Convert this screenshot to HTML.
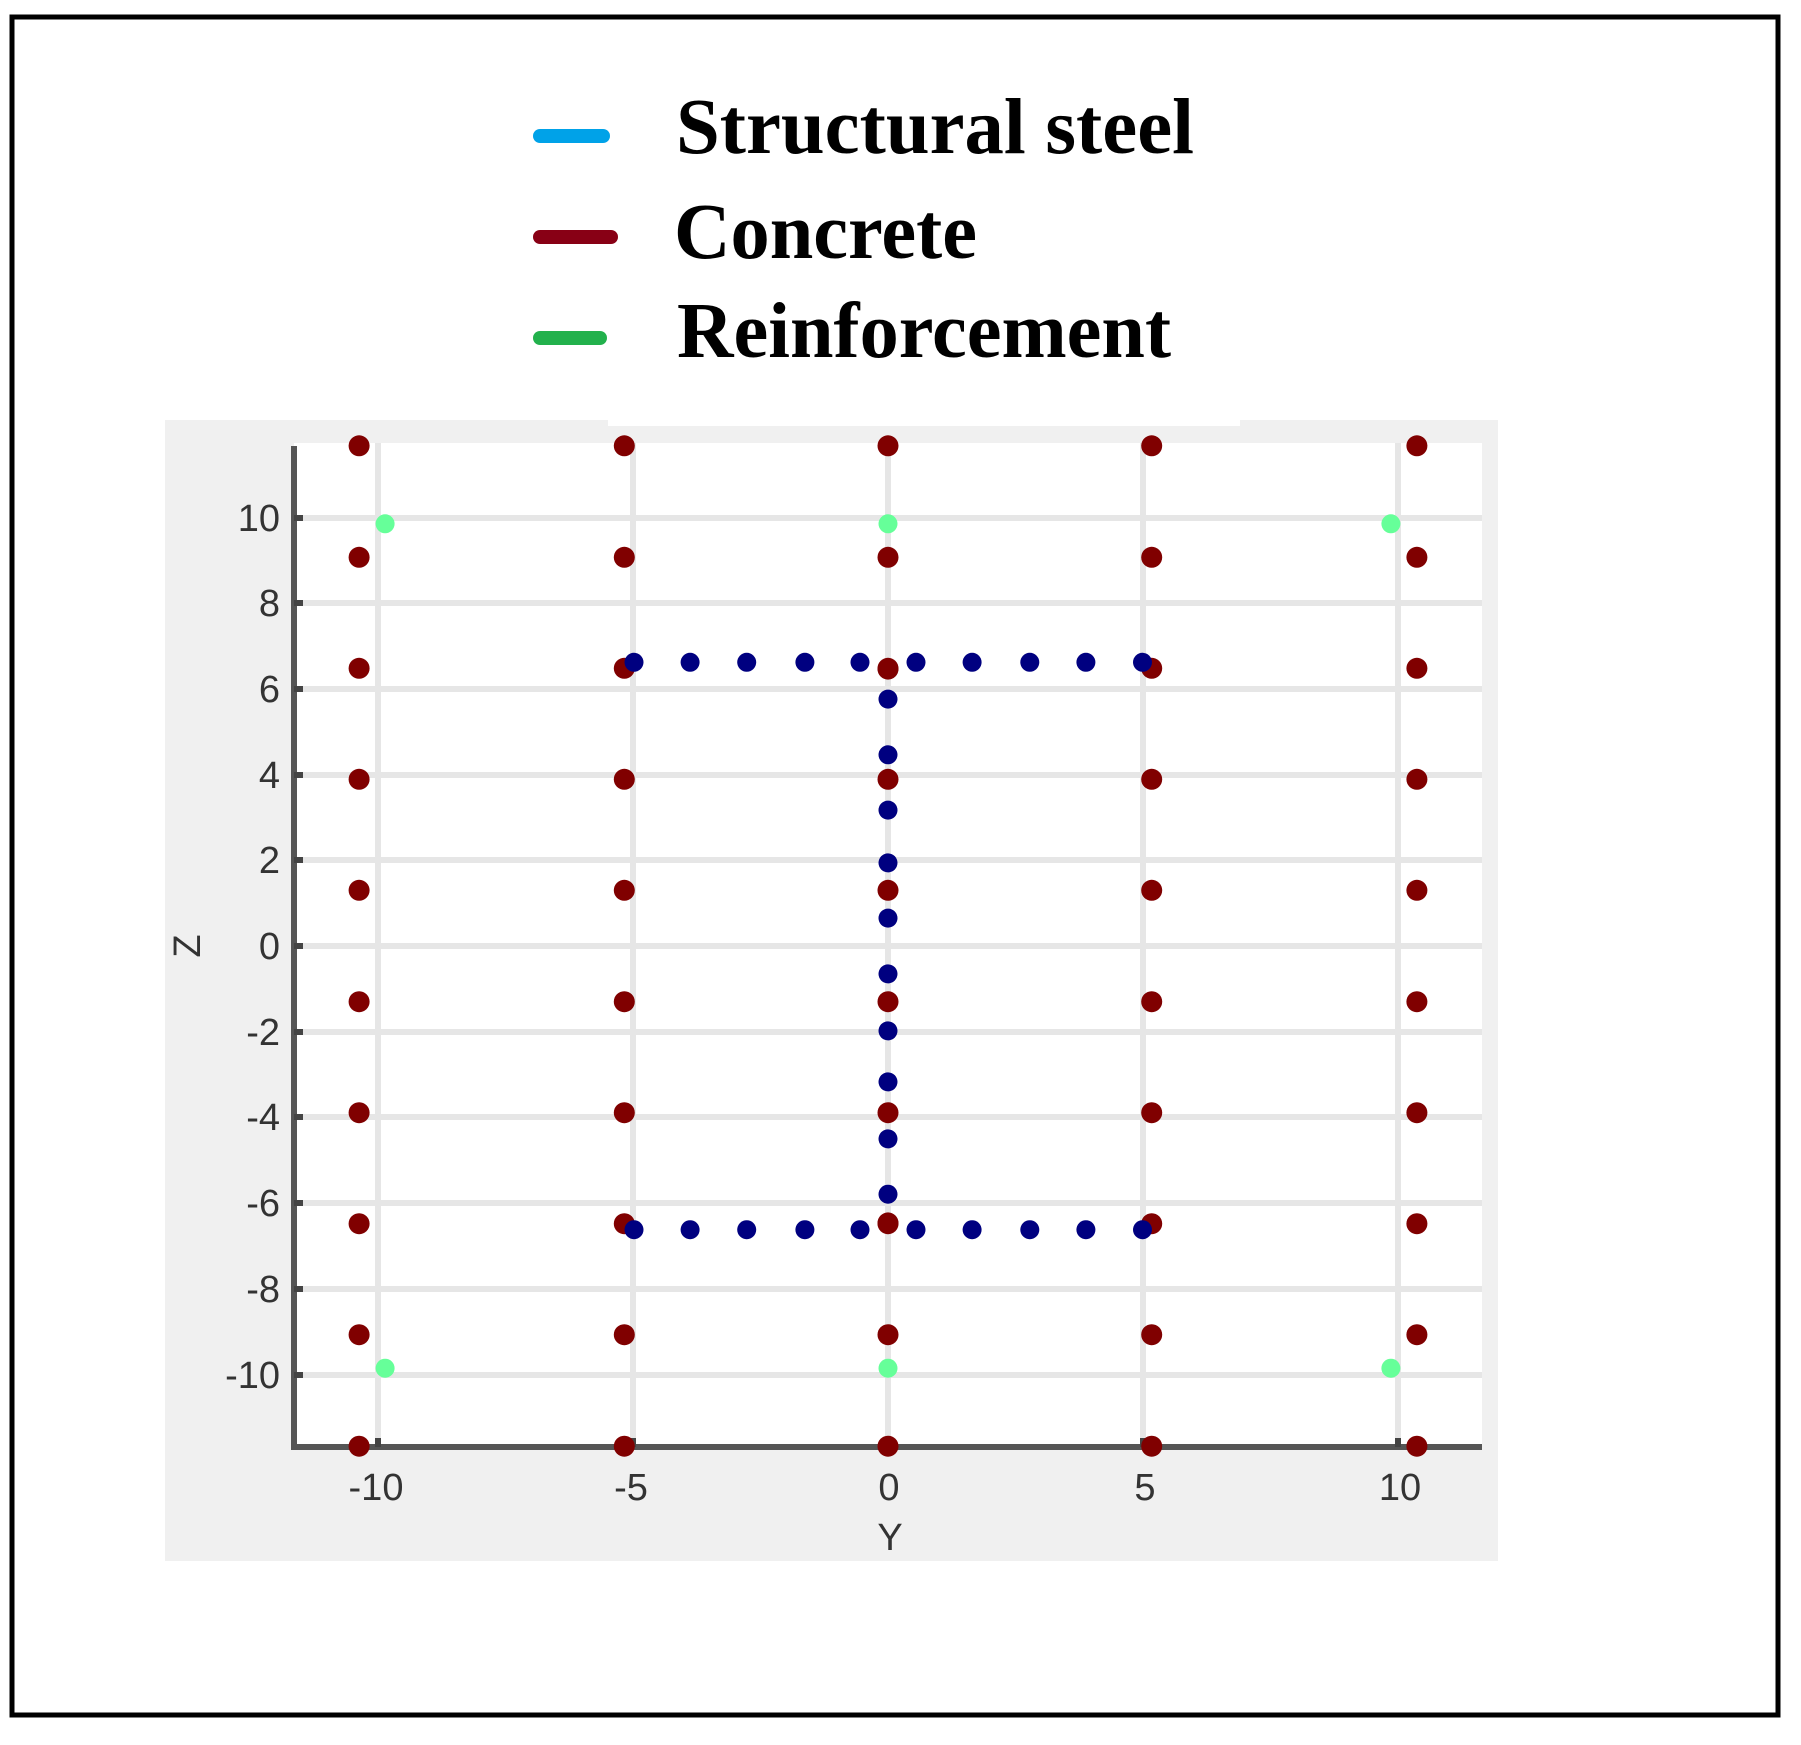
<!DOCTYPE html>
<html><head><meta charset="utf-8"><style>html,body{margin:0;padding:0;background:#fff}svg{display:block}</style></head>
<body>
<svg width="1801" height="1745" viewBox="0 0 1801 1745" xmlns="http://www.w3.org/2000/svg">
<rect x="0" y="0" width="1801" height="1745" fill="#fff"/>
<rect x="12" y="17" width="1766" height="1698" fill="none" stroke="#000" stroke-width="5"/>
<!-- legend -->
<g stroke-linecap="round" stroke-width="14">
<line x1="540" y1="136" x2="603" y2="136" stroke="#00a2e8"/>
<line x1="540" y1="237" x2="611" y2="237" stroke="#880015"/>
<line x1="540" y1="338" x2="600" y2="338" stroke="#22b14c"/>
</g>
<g font-family="Liberation Serif, serif" font-weight="bold" font-size="79" fill="#000">
<text x="676" y="153" textLength="518" lengthAdjust="spacingAndGlyphs">Structural steel</text>
<text x="674" y="258" textLength="303" lengthAdjust="spacingAndGlyphs">Concrete</text>
<text x="677" y="357" textLength="494" lengthAdjust="spacingAndGlyphs">Reinforcement</text>
</g>
<!-- panel -->
<rect x="165" y="420" width="1333" height="1141" fill="#f0f0f0"/>
<rect x="608" y="420" width="632" height="6" fill="#fff"/>
<rect x="294" y="443" width="1188" height="1004" fill="#fff"/>
<!-- grid -->
<g stroke="#e6e6e6" stroke-width="6">
<line x1="378" y1="443" x2="378" y2="1447"/>
<line x1="633" y1="443" x2="633" y2="1447"/>
<line x1="888" y1="443" x2="888" y2="1447"/>
<line x1="1143" y1="443" x2="1143" y2="1447"/>
<line x1="1398" y1="443" x2="1398" y2="1447"/>
<line x1="294" y1="518" x2="1482" y2="518"/>
<line x1="294" y1="603" x2="1482" y2="603"/>
<line x1="294" y1="689" x2="1482" y2="689"/>
<line x1="294" y1="775" x2="1482" y2="775"/>
<line x1="294" y1="860" x2="1482" y2="860"/>
<line x1="294" y1="946" x2="1482" y2="946"/>
<line x1="294" y1="1032" x2="1482" y2="1032"/>
<line x1="294" y1="1117" x2="1482" y2="1117"/>
<line x1="294" y1="1203" x2="1482" y2="1203"/>
<line x1="294" y1="1289" x2="1482" y2="1289"/>
<line x1="294" y1="1375" x2="1482" y2="1375"/>
</g>
<!-- axes -->
<g stroke="#555" stroke-width="6">
<line x1="294" y1="446" x2="294" y2="1450"/>
<line x1="291" y1="1447" x2="1482" y2="1447"/>
</g>
<g stroke="#444" stroke-width="6">
<line x1="294" y1="518" x2="303" y2="518"/><line x1="294" y1="603" x2="303" y2="603"/>
<line x1="294" y1="689" x2="303" y2="689"/><line x1="294" y1="775" x2="303" y2="775"/>
<line x1="294" y1="860" x2="303" y2="860"/><line x1="294" y1="946" x2="303" y2="946"/>
<line x1="294" y1="1032" x2="303" y2="1032"/><line x1="294" y1="1117" x2="303" y2="1117"/>
<line x1="294" y1="1203" x2="303" y2="1203"/><line x1="294" y1="1289" x2="303" y2="1289"/>
<line x1="294" y1="1375" x2="303" y2="1375"/>
<line x1="378" y1="1438" x2="378" y2="1447"/><line x1="633" y1="1438" x2="633" y2="1447"/>
<line x1="888" y1="1438" x2="888" y2="1447"/><line x1="1143" y1="1438" x2="1143" y2="1447"/>
<line x1="1398" y1="1438" x2="1398" y2="1447"/>
</g>
<g font-family="Liberation Sans, sans-serif" font-size="38" fill="#333" text-anchor="end">
<text x="280" y="531">10</text><text x="280" y="616">8</text><text x="280" y="702">6</text>
<text x="280" y="788">4</text><text x="280" y="873">2</text><text x="280" y="959">0</text>
<text x="280" y="1045">-2</text><text x="280" y="1130">-4</text><text x="280" y="1216">-6</text>
<text x="280" y="1302">-8</text><text x="280" y="1388">-10</text>
</g>
<g font-family="Liberation Sans, sans-serif" font-size="38" fill="#333" text-anchor="middle">
<text x="376" y="1500">-10</text><text x="631" y="1500">-5</text><text x="889" y="1500">0</text>
<text x="1145" y="1500">5</text><text x="1400" y="1500">10</text>
<text x="890" y="1550">Y</text>
<text transform="translate(200,946) rotate(-90)" x="0" y="0">Z</text>
</g>
<!-- points -->
<g id="pts"></g>
<script>
(function(){
var g=document.getElementById('pts'),ns='http://www.w3.org/2000/svg';
function X(y){return 888+51*y;} function Y(z){return 946-42.86*z;}
function dot(y,z,r,c){var e=document.createElementNS(ns,'circle');e.setAttribute('cx',X(y).toFixed(1));e.setAttribute('cy',Y(z).toFixed(1));e.setAttribute('r',r);e.setAttribute('fill',c);g.appendChild(e);}
var cy=[-10.37,-5.17,0,5.17,10.37],cz=[11.67,9.07,6.48,3.89,1.3,-1.3,-3.89,-6.48,-9.07,-11.67];
cy.forEach(function(a){cz.forEach(function(b){dot(a,b,10.5,'#800000');});});
var fy=[-4.98,-3.88,-2.77,-1.63,-0.55,0.55,1.65,2.78,3.88,4.99];
fy.forEach(function(a){dot(a,6.62,9.5,'#000080');dot(a,-6.62,9.5,'#000080');});
[5.76,4.46,3.17,1.94,0.65,-0.65,-1.98,-3.17,-4.5,-5.79].forEach(function(b){dot(0,b,9.5,'#000080');});
dot(0,6.46,10.5,'#800000');dot(0,-6.46,10.5,'#800000');
[-9.86,0,9.86].forEach(function(a){[9.85,-9.85].forEach(function(b){dot(a,b,9.5,'#66ff99');});});
})();
</script>
</svg>
</body></html>
